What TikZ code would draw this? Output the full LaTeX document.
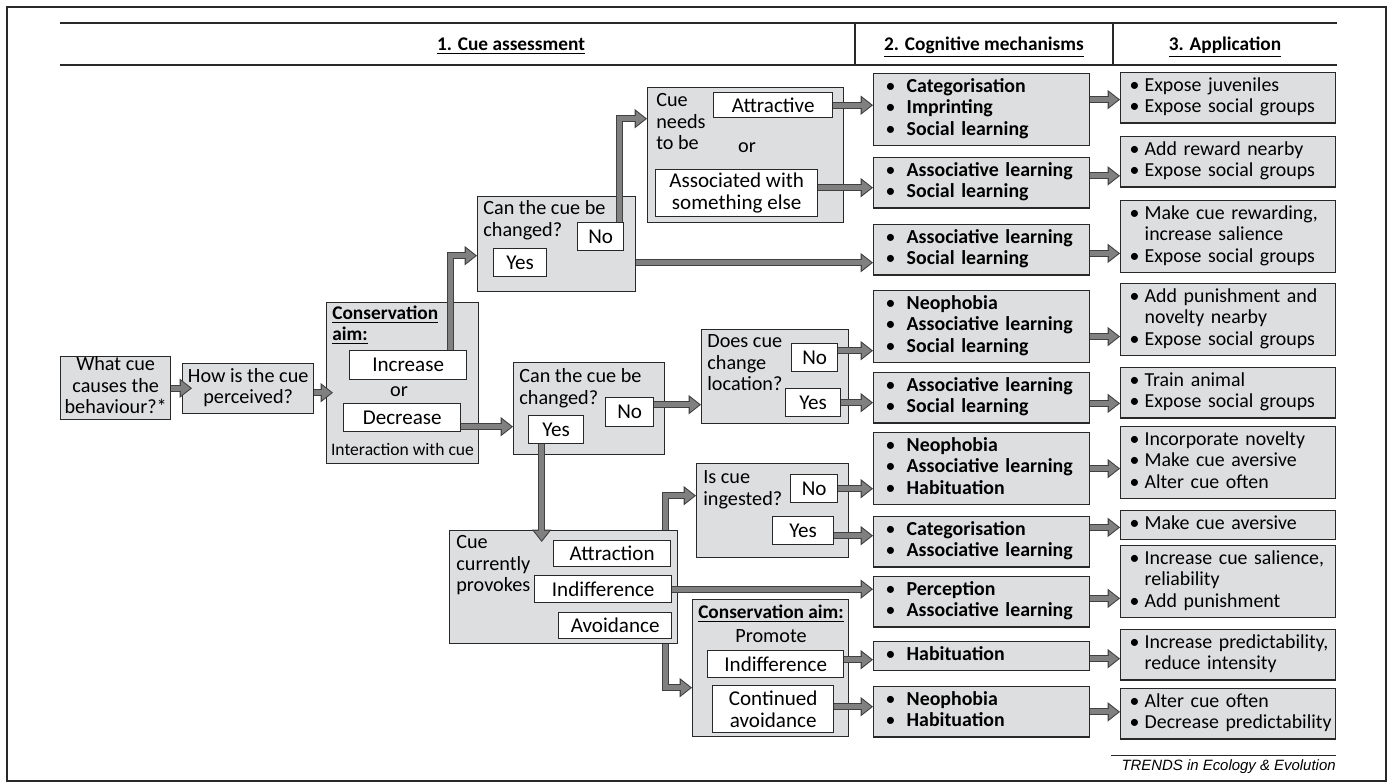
\documentclass[tikz,border=0pt]{standalone}
\usepackage{fontspec}
\setmainfont{Carlito}
\newfontfamily\trendsfont{Liberation Sans}
\usepackage{xcolor}
\usepackage{tikz}
\usetikzlibrary{arrows.meta}
\usetikzlibrary{positioning}
\definecolor{panelgray}{RGB}{221,222,223}
\definecolor{flowgray}{RGB}{128,128,128}
\definecolor{flowline}{RGB}{64,64,64}
\definecolor{linegray}{RGB}{40,40,40}
\newcommand{\mechitem}[1]{\makebox[0.42cm][l]{\textbullet}\textbf{#1}}
\newcommand{\appitem}[1]{\makebox[0.30cm][l]{\textbullet}\mbox{#1}}
\newcommand{\appmore}[1]{\hspace*{0.30cm}\mbox{#1}}
\tikzset{
    qbox/.style = {rectangle, draw=linegray, fill=panelgray, line width=0.8pt, anchor=north west, inner sep=0pt},
    qlabel/.style = {qbox, align=center, font=\fontsize{11.5}{12}\selectfont, execute at begin node=\strut, execute at end node=\strut},
    optbox/.style = {rectangle, draw=linegray, fill=white, line width=0.8pt, anchor=north west, inner sep=0pt, align=center, font=\fontsize{12}{12.2}\selectfont},
    mechbox/.style = {rectangle, draw=linegray, fill=panelgray, line width=0.8pt, anchor=north west, inner xsep=0.24cm, inner ysep=0.075cm, text width=3.84cm, align=left, font=\fontsize{11.3}{12.2}\selectfont, execute at begin node=\strut, execute at end node=\strut},
    appbox/.style = {mechbox, inner xsep=0.18cm, text width=3.94cm},
}

\begin{document}
\begin{tikzpicture}[x=0.02cm, y=-0.02cm]
\tikzset{
    qtext/.style = {anchor=north west, inner sep=0pt, align=left, font=\fontsize{11.5}{12.2}\selectfont, execute at begin node=\strut, execute at end node=\strut},
    plaintext/.style = {inner sep=0pt, font=\fontsize{11.5}{12.2}\selectfont},
    headtext/.style = {anchor=base, inner sep=0pt, font=\fontsize{11}{13}\selectfont\bfseries},
    ruleline/.style = {draw=linegray, line width=0.8pt},
    edgeflow/.style = {draw=flowline, line width=4pt, line join=miter, -{Triangle[length=7pt,width=11pt,line width=0pt]},
        postaction={draw=flowgray, line width=2.8pt, shorten >=0.97pt, -{Triangle[length=5.4pt,width=8.5pt,line width=0pt]}}},
}
\useasboundingbox (0,0) rectangle (1390,784);
\draw[ruleline] (7,7) rectangle (1386,781);
%
\draw[ruleline] (60,23) -- (1337,23);
\draw[ruleline] (60,65) -- (1337,65);
\draw[ruleline] (855,23) -- (855,65);
\draw[ruleline] (1113,23) -- (1113,65);
\node[headtext] (h1) at (511,51) {\underline{1. Cue assessment}};
\node[headtext] (h2) at (984,51) {\underline{2. Cognitive mechanisms}};
\node[headtext] (h3) at (1225,51) {\underline{3. Application}};
%
\node[qlabel, minimum width=2.2cm, minimum height=1.26cm] (what) at (60,356) {What cue\\causes the\\behaviour?*};
\node[qlabel, minimum width=2.62cm, minimum height=1.0cm] (how) at (182,363) {How is the cue\\perceived?};
%
\node[qbox, minimum width=3.04cm, minimum height=3.22cm] (aim1) at (326,302) {};
\node[qtext, font=\fontsize{11}{12.2}\selectfont\bfseries] (aim1t) at (332,305.5) {\underline{Conservation}\\\underline{aim:}};
\node[optbox, minimum width=2.34cm, minimum height=0.58cm] (inc) at (349,350) {Increase};
\node[plaintext] (or1) at (399,392) {or};
\node[optbox, minimum width=2.34cm, minimum height=0.56cm] (dec) at (343,403) {Decrease};
\node[plaintext, font=\fontsize{10}{12}\selectfont] (aim1n) at (402.5,449) {Interaction with cue};
%
\node[qbox, minimum width=3.16cm, minimum height=1.9cm] (can1) at (477,196) {};
\node[qtext] (can1t) at (483,200.5) {Can the cue be\\changed?};
\node[optbox, minimum width=0.92cm, minimum height=0.56cm] (no1) at (577,222) {No};
\node[optbox, minimum width=1.06cm, minimum height=0.56cm] (yes1) at (493,248) {Yes};
%
\node[qbox, minimum width=3.92cm, minimum height=2.7cm] (need) at (647,87) {};
\node[qtext] (needt) at (656,93.5) {Cue\\needs\\to be};
\node[optbox, minimum width=2.38cm, minimum height=0.5cm] (attr) at (713,92) {Attractive};
\node[plaintext] (or2) at (747,148) {or};
\node[optbox, minimum width=3.24cm, minimum height=0.94cm] (assoc) at (655,169) {Associated with\\something else};
%
\node[qbox, minimum width=3.02cm, minimum height=1.84cm] (can2) at (513,362) {};
\node[qtext] (can2t) at (519,368.5) {Can the cue be\\changed?};
\node[optbox, minimum width=0.96cm, minimum height=0.58cm] (no2) at (605,397) {No};
\node[optbox, minimum width=1.1cm, minimum height=0.56cm] (yes2) at (528,415) {Yes};
%
\node[qbox, minimum width=2.94cm, minimum height=1.88cm] (loc) at (701,329) {};
\node[qtext] (loct) at (707,334.5) {Does cue\\change\\location?};
\node[optbox, minimum width=0.92cm, minimum height=0.56cm] (no3) at (791,343) {No};
\node[optbox, minimum width=1.1cm, minimum height=0.56cm] (yes3) at (785,388) {Yes};
%
\node[qbox, minimum width=4.56cm, minimum height=2.26cm] (cur) at (449,530) {};
\node[qtext] (curt) at (456,535.5) {Cue\\currently\\provokes};
\node[optbox, minimum width=2.34cm, minimum height=0.52cm] (attn) at (553,540) {Attraction};
\node[optbox, minimum width=2.74cm, minimum height=0.54cm] (indf) at (534,575) {Indifference};
\node[optbox, minimum width=2.26cm, minimum height=0.52cm] (avoid) at (558,612) {Avoidance};
%
\node[qbox, minimum width=3.04cm, minimum height=1.88cm] (ing) at (696,463) {};
\node[qtext] (ingt) at (703,470.5) {Is cue\\ingested?};
\node[optbox, minimum width=0.94cm, minimum height=0.56cm] (no4) at (790,474) {No};
\node[optbox, minimum width=1.22cm, minimum height=0.56cm] (yes4) at (772,516) {Yes};
%
\node[qbox, minimum width=3.12cm, minimum height=2.74cm] (aim2) at (692,599) {};
\node[plaintext, font=\fontsize{11}{12}\selectfont\bfseries] (aim2t) at (771,614) {\underline{Conservation aim:}};
\node[plaintext] (aim2p) at (771,636) {Promote};
\node[optbox, minimum width=2.72cm, minimum height=0.54cm] (indf2) at (707,650) {Indifference};
\node[optbox, minimum width=2.42cm, minimum height=0.94cm] (cont) at (712,685) {Continued\\avoidance};
%
\node[mechbox] (m1) at (873,73) {\mechitem{Categorisation}\\\mechitem{Imprinting}\\\mechitem{Social learning}};
\node[mechbox] (m2) at (873,157) {\mechitem{Associative learning}\\\mechitem{Social learning}};
\node[mechbox] (m3) at (873,224) {\mechitem{Associative learning}\\\mechitem{Social learning}};
\node[mechbox] (m4) at (873,290) {\mechitem{Neophobia}\\\mechitem{Associative learning}\\\mechitem{Social learning}};
\node[mechbox] (m5) at (873,372) {\mechitem{Associative learning}\\\mechitem{Social learning}};
\node[mechbox] (m6) at (873,432) {\mechitem{Neophobia}\\\mechitem{Associative learning}\\\mechitem{Habituation}};
\node[mechbox] (m7) at (873,516) {\mechitem{Categorisation}\\\mechitem{Associative learning}};
\node[mechbox] (m8) at (873,576) {\mechitem{Perception}\\\mechitem{Associative learning}};
\node[mechbox] (m9) at (873,641) {\mechitem{Habituation}};
\node[mechbox] (m10) at (873,686) {\mechitem{Neophobia}\\\mechitem{Habituation}};
%
\node[appbox] (a1) at (1120,72) {\appitem{Expose juveniles}\\\appitem{Expose social groups}};
\node[appbox] (a2) at (1120,136) {\appitem{Add reward nearby}\\\appitem{Expose social groups}};
\node[appbox] (a3) at (1120,200) {\appitem{Make cue rewarding,}\\\appmore{increase salience}\\\appitem{Expose social groups}};
\node[appbox] (a4) at (1120,283) {\appitem{Add punishment and}\\\appmore{novelty nearby}\\\appitem{Expose social groups}};
\node[appbox] (a5) at (1120,367) {\appitem{Train animal}\\\appitem{Expose social groups}};
\node[appbox] (a6) at (1120,426) {\appitem{Incorporate novelty}\\\appitem{Make cue aversive}\\\appitem{Alter cue often}};
\node[appbox] (a7) at (1120,510) {\appitem{Make cue aversive}};
\node[appbox] (a8) at (1120,545) {\appitem{Increase cue salience,}\\\appmore{reliability}\\\appitem{Add punishment}};
\node[appbox] (a9) at (1120,629) {\appitem{Increase predictability,}\\\appmore{reduce intensity}};
\node[appbox] (a10) at (1120,688) {\appitem{Alter cue often}\\\appitem{Decrease predictability}};
%
\draw[draw=linegray, line width=0.5pt] (1111,755) -- (1336,755);
\node[anchor=base east, inner sep=0pt, font=\fontsize{8.5}{10}\selectfont\trendsfont\itshape] (src) at (1336,770) {TRENDS in Ecology \& Evolution};
%
\draw[edgeflow] (what.east) -- ([xshift=0.2cm]what.east -| how.west);
\draw[edgeflow] ([yshift=-0.08cm]how.east) -- ([xshift=0.14cm,yshift=-0.08cm]how.east -| aim1.west);
\draw[edgeflow] ([xshift=0.85cm]inc.north) |- ([yshift=-0.23cm]can1.west);
\draw[edgeflow] ([yshift=-0.18cm]dec.east) -- ([yshift=-0.18cm]dec.east -| can2.west);
\draw[edgeflow] ([xshift=0.38cm]no1.north) |- ([yshift=0.73cm]need.west);
\draw[edgeflow] ([yshift=0.15cm]no2.east) -- ([yshift=0.15cm]no2.east -| loc.west);
\draw[edgeflow] ([xshift=-0.29cm]yes2.south) -- ([xshift=-0.29cm,yshift=-0.24cm]yes2.south |- cur.north);
\draw[edgeflow] ([xshift=2.04cm]cur.north) |- ([yshift=0.3cm]ing.west);
\draw[edgeflow] ([xshift=2.04cm]cur.south) |- ([yshift=-0.39cm]aim2.west);
%
\draw[edgeflow] (attr.east) -- (attr.east -| m1.west);
\draw[edgeflow] ([yshift=0.11cm]assoc.east) -- ([yshift=0.11cm]assoc.east -| m2.west);
\draw[edgeflow] ([yshift=-0.37cm]can1.east) -- ([yshift=-0.37cm]can1.east -| m3.west);
\draw[edgeflow] ([yshift=0.14cm]no3.east) -- ([yshift=0.14cm]no3.east -| m4.west);
\draw[edgeflow] (yes3.east) -- (yes3.east -| m5.west);
\draw[edgeflow] (no4.east) -- (no4.east -| m6.west);
\draw[edgeflow] ([yshift=-0.1cm]yes4.east) -- ([yshift=-0.1cm]yes4.east -| m7.west);
\draw[edgeflow] (indf.east) -- (indf.east -| m8.west);
\draw[edgeflow] ([yshift=0.09cm]indf2.east) -- ([yshift=0.09cm]indf2.east -| m9.west);
\draw[edgeflow] ([yshift=0.05cm]cont.east) -- ([yshift=0.05cm]cont.east -| m10.west);
%
\draw[edgeflow] ([yshift=0.2cm]m1.east) -- ([yshift=0.2cm]m1.east -| a1.west);
\draw[edgeflow] ([yshift=0.14cm]m2.east) -- ([yshift=0.14cm]m2.east -| a2.west);
\draw[edgeflow] ([yshift=-0.07cm]m3.east) -- ([yshift=-0.07cm]m3.east -| a3.west);
\draw[edgeflow] ([yshift=-0.2cm]m4.east) -- ([yshift=-0.2cm]m4.east -| a4.west);
\draw[edgeflow] ([yshift=-0.11cm]m5.east) -- ([yshift=-0.11cm]m5.east -| a5.west);
\draw[edgeflow] (m6.east) -- (m6.east -| a6.west);
\draw[edgeflow] ([yshift=0.29cm]m7.east) -- ([yshift=0.29cm]m7.east -| a7.west);
\draw[edgeflow] ([yshift=0.07cm]m8.east) -- ([yshift=0.07cm]m8.east -| a8.west);
\draw[edgeflow] ([yshift=-0.05cm]m9.east) -- ([yshift=-0.05cm]m9.east -| a9.west);
\draw[edgeflow] (m10.east) -- (m10.east -| a10.west);
\end{tikzpicture}
\end{document}
